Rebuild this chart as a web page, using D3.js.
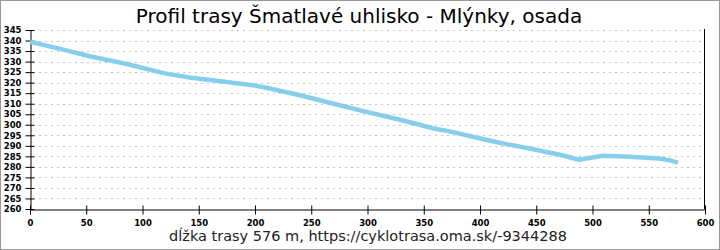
<!DOCTYPE html>
<html>
<head>
<meta charset="utf-8">
<script src="https://cdn.jsdelivr.net/npm/d3@7"></script>
<style>
  body { margin: 0; background: #fff; }
  svg { display: block; }
</style>
</head>
<body>
<div id="chart"></div>
<script>
const title = "Profil trasy Šmatlavé uhlisko - Mlýnky, osada";
const caption = "dĺžka trasy 576 m, https://cyklotrasa.oma.sk/-9344288";

// distance along route (m) and elevation (m)
const distances = [0, 25, 55, 84, 120, 143, 151, 173, 200, 210, 240, 269, 299, 328, 361, 371, 414, 444, 473, 488, 509, 533, 559, 568, 576];
const elevations = [339.4, 336.3, 332.3, 329.1, 324.4, 322.3, 321.8, 320.4, 318.6, 317.6, 314, 310.1, 306.1, 302.5, 298, 297.1, 291.8, 288.7, 285.5, 283.4, 285.3, 284.8, 284, 283.2, 282];

const xTicks = d3.range(0, 601, 50);
const yTicks = d3.range(260, 346, 5);

function buildProfile() {
  const width = 720;
  const height = 250;
  const margin = { top: 30, right: 15, bottom: 41, left: 30 };

  const svg = d3
    .select("#chart")
    .append("svg")
    .attr("width", width)
    .attr("height", height);

  // outer frame
  svg.append("rect")
    .attr("x", 0.5).attr("y", 0.5)
    .attr("width", width - 1).attr("height", height - 1)
    .attr("fill", "#fff")
    .attr("stroke", "#999");

  const xScale = d3.scaleLinear()
    .domain([0, 600])
    .range([margin.left, width - margin.right]);

  const yScale = d3.scaleLinear()
    .domain([260, 345])
    .range([height - margin.bottom, margin.top]);

  // dashed grid lines
  svg.append("g")
    .selectAll("line")
    .data(yTicks.filter(d => d > 260))
    .join("line")
    .attr("x1", xScale(0) + 3)
    .attr("x2", xScale(600) - 2)
    .attr("y1", d => Math.round(yScale(d)) + 0.5)
    .attr("y2", d => Math.round(yScale(d)) + 0.5)
    .attr("stroke", "#c4c4c4")
    .attr("stroke-dasharray", "2,4");

  const axisFont = g => g
    .attr("font-family", "'DejaVu Sans', sans-serif")
    .attr("font-size", 8.5)
    .attr("font-weight", "bold");

  const xAxis = g => g
    .attr("transform", `translate(0,${Math.round(yScale(260)) + 0.5})`)
    .call(d3.axisBottom(xScale).tickValues(xTicks).tickSizeInner(5).tickSizeOuter(0).tickPadding(5))
    .call(g => g.selectAll(".tick line").attr("y1", -4).attr("stroke", "#000"))
    .call(g => g.select(".domain").attr("stroke", "#000"))
    .call(axisFont);

  const yAxis = g => g
    .attr("transform", `translate(${xScale(0) + 0.5},0)`)
    .call(d3.axisLeft(yScale).tickValues(yTicks).tickSizeInner(5).tickSizeOuter(0).tickPadding(4))
    .call(g => g.selectAll(".tick line").attr("x1", 4).attr("stroke", "#000"))
    .call(g => g.select(".domain").attr("stroke", "#000"))
    .call(axisFont);

  svg.append("g").call(xAxis);
  svg.append("g").call(yAxis);

  // right border line
  svg.append("line")
    .attr("x1", Math.round(xScale(600)) - 0.5)
    .attr("x2", Math.round(xScale(600)) - 0.5)
    .attr("y1", yScale(345) - 1)
    .attr("y2", yScale(260))
    .attr("stroke", "#000");

  const line = d3.line()
    .x((d, i) => xScale(distances[i]))
    .y(d => yScale(d));

  svg.append("path")
    .datum(elevations)
    .attr("d", line)
    .attr("fill", "none")
    .attr("stroke", "#87ceeb")
    .attr("stroke-width", 4.5)
    .attr("stroke-linejoin", "round");

  svg.append("text")
    .attr("x", 359)
    .attr("y", 23)
    .attr("text-anchor", "middle")
    .attr("font-family", "'DejaVu Sans', sans-serif")
    .attr("font-size", 20)
    .attr("fill", "#000")
    .text(title);

  svg.append("text")
    .attr("x", 368)
    .attr("y", 241)
    .attr("text-anchor", "middle")
    .attr("font-family", "'DejaVu Sans', sans-serif")
    .attr("font-size", 14.5)
    .attr("fill", "#222")
    .text(caption);
}

buildProfile();
</script>
</body>
</html>
